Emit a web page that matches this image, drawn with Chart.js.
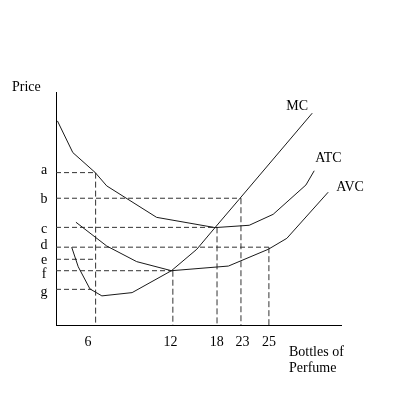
<!DOCTYPE html>
<html>
<head>
<meta charset="utf-8">
<script src="https://cdn.jsdelivr.net/npm/chart.js@4"></script>
<style>
html,body{margin:0;padding:0;background:#fff;}
canvas{display:block;}
</style>
</head>
<body>
<canvas id="c" width="400" height="400"></canvas>
<script>
// Positions are in abstract diagram units (0-100 on each axis); the sketch is not drawn to scale.
const quantityLabels = ['6', '12', '18', '23', '25'];
const quantityPos = [13.9, 41.0, 56.5, 64.9, 74.7];
const quantityLabelPos = [11.2, 40.2, 56.4, 65.4, 74.7];
const dropFromLevel = [65.4, 23.3, 41.9, 54.4, 33.4];

const priceLabels = ['a', 'b', 'c', 'd', 'e', 'f', 'g'];
const priceLevels = [65.4, 54.4, 41.9, 33.4, 28.2, 23.3, 15.3];
const priceLineEnds = [13.9, 64.9, 56.5, 74.7, 13.9, 41.0, 12.5];

const atcX = [0.5, 5.9, 13.7, 17.8, 35.3, 55.8, 67.8, 76.2, 87.7, 90.6];
const atcY = [87.6, 74.0, 65.5, 59.7, 46.2, 41.8, 42.8, 47.5, 60.1, 66.2];

const avcX = [7.0, 17.8, 28.3, 40.5, 60.5, 74.5, 81.0, 95.5];
const avcY = [44.1, 33.9, 27.2, 23.3, 25.3, 32.5, 37.2, 57.0];

const mcX = [5.5, 7.8, 11.9, 16.1, 26.7, 40.5, 49.4, 55.8, 64.3, 89.9];
const mcY = [33.4, 25.0, 15.5, 12.5, 13.9, 23.3, 32.5, 41.8, 54.0, 90.9];

const curveNames = ['MC', 'ATC', 'AVC'];

const pts = (xs, ys) => xs.map((x, i) => ({x: x, y: ys[i]}));

const datasets = [];
const curveStyle = {showLine: true, pointRadius: 0, borderColor: '#1a1a1a', borderWidth: 1, fill: false, tension: 0};
datasets.push(Object.assign({label: 'MC', data: pts(mcX, mcY)}, curveStyle));
datasets.push(Object.assign({label: 'ATC', data: pts(atcX, atcY)}, curveStyle));
datasets.push(Object.assign({label: 'AVC', data: pts(avcX, avcY)}, curveStyle));

const dashStyle = {showLine: true, pointRadius: 0, borderColor: '#333', borderWidth: 1, borderDash: [5, 3], fill: false};
priceLevels.forEach((lv, i) => {
  datasets.push(Object.assign({label: 'h' + i, data: [{x: 0, y: lv}, {x: priceLineEnds[i], y: lv}]}, dashStyle));
});
quantityPos.forEach((q, i) => {
  datasets.push(Object.assign({label: 'v' + i, data: [{x: q, y: dropFromLevel[i]}, {x: q, y: 0}]}, dashStyle, {borderDash: [6, 3]}));
});

const FONT = "14px 'Liberation Serif', serif";
const letterOffsets = [1.3, 4.7, 5.7, 1.7, 4.7, 7.3, 6.7];

const textPlugin = {
  id: 'texts',
  afterDraw(chart) {
    const ctx = chart.ctx;
    const xs = chart.scales.x, ys = chart.scales.y;
    const area = chart.chartArea;
    ctx.save();
    ctx.fillStyle = '#000';
    ctx.font = FONT;
    ctx.textBaseline = 'alphabetic';
    // y-axis title
    ctx.textAlign = 'left';
    ctx.fillText('Price', area.left - 44, area.top - 1);
    // price letters
    ctx.textAlign = 'center';
    priceLabels.forEach((l, i) => {
      ctx.fillText(l, area.left - 12, ys.getPixelForValue(priceLevels[i]) + letterOffsets[i]);
    });
    // quantity tick labels
    quantityLabels.forEach((l, i) => {
      ctx.fillText(l, xs.getPixelForValue(quantityLabelPos[i]), area.bottom + 21);
    });
    // x-axis title
    ctx.textAlign = 'left';
    ctx.fillText('Bottles of', area.right - 52, area.bottom + 31);
    ctx.fillText('Perfume', area.right - 52, area.bottom + 47);
    // curve labels
    const ends = [[mcX, mcY, -26, -3], [atcX, atcY, 1, -9], [avcX, avcY, 8, -1.5]];
    curveNames.forEach((n, i) => {
      const [cx, cy, dx, dy] = ends[i];
      const px = xs.getPixelForValue(cx[cx.length - 1]);
      const py = ys.getPixelForValue(cy[cy.length - 1]);
      ctx.fillText(n, px + dx, py + dy);
    });
    ctx.restore();
  }
};

const bgPlugin = {
  id: 'bg',
  beforeDraw(chart) {
    const ctx = chart.ctx;
    ctx.save();
    ctx.fillStyle = '#fff';
    ctx.fillRect(0, 0, chart.width, chart.height);
    ctx.restore();
  }
};

new Chart(document.getElementById('c'), {
  type: 'scatter',
  data: {datasets: datasets},
  options: {
    responsive: false,
    animation: false,
    events: [],
    clip: false,
    layout: {padding: {left: 56, right: 59, top: 92, bottom: 75}},
    plugins: {legend: {display: false}, tooltip: {enabled: false}},
    scales: {
      x: {
        type: 'linear', min: 0, max: 100,
        ticks: {display: false},
        grid: {display: false, drawTicks: false},
        border: {display: true, color: '#000', width: 1},
        afterFit(s) { s.height = 0; }
      },
      y: {
        type: 'linear', min: 0, max: 100,
        ticks: {display: false},
        grid: {display: false, drawTicks: false},
        border: {display: true, color: '#000', width: 1},
        afterFit(s) { s.width = 0; }
      }
    }
  },
  plugins: [bgPlugin, textPlugin]
});
</script>
</body>
</html>
